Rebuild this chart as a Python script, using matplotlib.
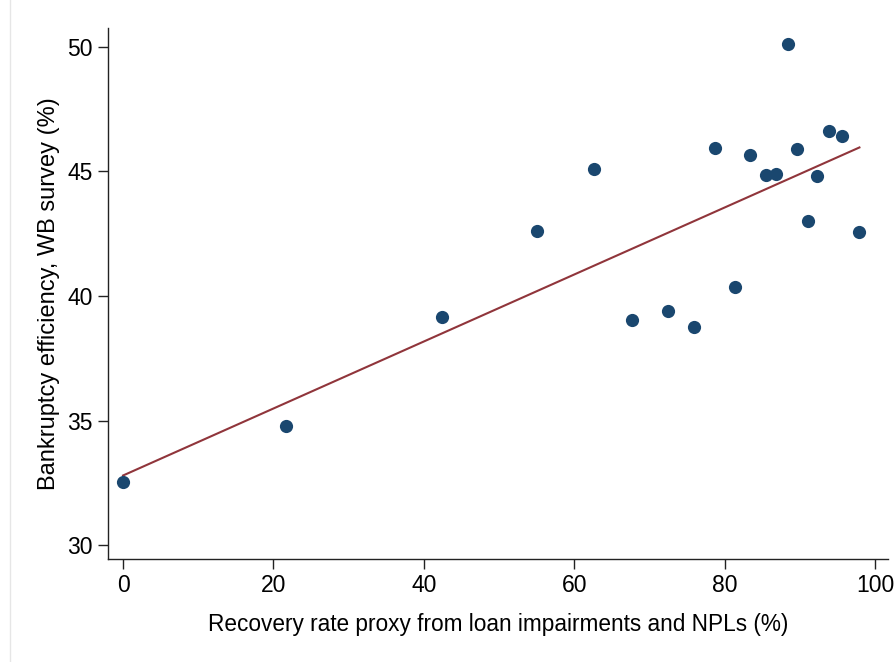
import matplotlib
matplotlib.use("Agg")
import matplotlib.pyplot as plt
import numpy as np
from matplotlib.lines import Line2D

plt.rcParams['font.family'] = ['Liberation Sans', 'DejaVu Sans']

recovery = [0.0, 21.7, 42.4, 55.1, 62.6, 67.6, 72.5, 75.9, 78.7, 81.3,
            83.4, 85.5, 86.8, 88.4, 89.6, 91.0, 92.3, 93.9, 95.6, 97.9]
efficiency = [32.53, 34.78, 39.16, 42.61, 45.10, 39.04, 39.40, 38.75, 45.94, 40.36,
              45.66, 44.86, 44.90, 50.12, 45.90, 43.01, 44.82, 46.63, 46.43, 42.57]

x = np.array(recovery)
y = np.array(efficiency)
slope, intercept = np.polyfit(x, y, 1)
xf = np.array([x.min(), x.max()])

fig = plt.figure(figsize=(8.96, 6.62), dpi=100)
ax = fig.add_axes([108/896, 1-559/662, (888-108)/896, (559-28)/662])

ax.plot(xf, intercept + slope*xf, color='#90353b', lw=1.5, zorder=2)
ax.plot(x, y, 'o', color='#1a476f', ms=9.5, mec='none', zorder=3)

ax.set_xlim(-2, 101.7)
ax.set_ylim(29.44, 50.76)
ax.set_xticks([0, 20, 40, 60, 80, 100])
ax.set_yticks([30, 35, 40, 45, 50])
for s in ['top', 'right']:
    ax.spines[s].set_visible(False)
for s in ['left', 'bottom']:
    ax.spines[s].set_color('#222222')
    ax.spines[s].set_linewidth(1.0)
ax.tick_params(axis='both', direction='out', length=7, width=1, color='#222222',
               labelsize=16.5, pad=4)
ax.set_xlabel('Recovery rate proxy from loan impairments and NPLs (%)', fontsize=16.3, labelpad=11)
ax.set_ylabel('Bankruptcy efficiency, WB survey (%)', fontsize=17, labelpad=5)

fig.add_artist(Line2D([10/896, 10/896], [0, 1], transform=fig.transFigure,
                      color='#e6e6e6', lw=1))

fig.savefig('out.png', dpi=100)
